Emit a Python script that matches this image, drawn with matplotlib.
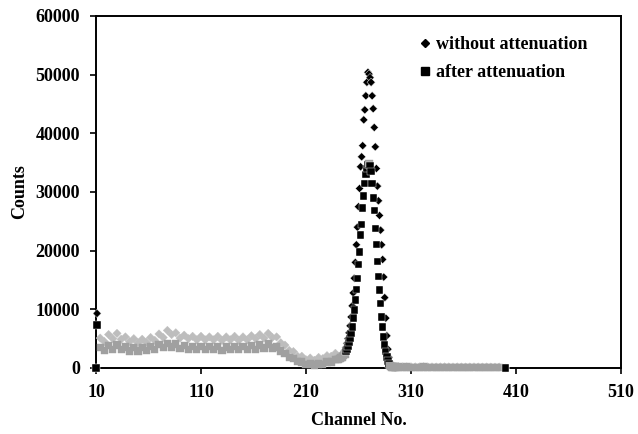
import numpy as np
import matplotlib
matplotlib.use('Agg')
import matplotlib.pyplot as plt
from matplotlib.lines import Line2D

plt.rcParams['font.family'] = ['Liberation Serif', 'DejaVu Serif']
plt.rcParams['font.weight'] = 'bold'

# channel numbers of the samples (start, flat region, peak region, tail, end)
start_ch = [10, 11]
base_ch = np.arange(14, 239, 4)
peak_ch = np.arange(240, 296)
tail_ch = np.arange(298, 398, 4)
end_ch = [400]

# counts without attenuation
without_start = [0, 9300]
without_base = [5100, 4500, 5700, 5000, 5900, 4900, 5300, 4500, 5000, 4300,
                4900, 4400, 5200, 4700, 5800, 5200, 6400, 5700, 6000, 5100,
                5600, 5000, 5400, 4800, 5400, 4800, 5300, 4800, 5400, 4700,
                5300, 4800, 5400, 4700, 5300, 4800, 5500, 5000, 5700, 5100,
                5900, 5200, 5300, 4300, 3900, 3000, 2800, 2000, 2000, 1400,
                1700, 1300, 1800, 1600, 2100, 2000, 2500]
without_peak = [1800, 1900, 2000, 2100, 2200, 2300, 2600, 3000, 3500, 4200,
                5000, 6000, 7200, 8700, 10600, 12800, 15300, 18000, 21000, 24000,
                27500, 30600, 34300, 36000, 37900, 42300, 44000, 46400, 48700, 50400,
                50100, 49500, 48700, 46400, 44200, 41000, 37700, 34000, 31000, 28500,
                26000, 23500, 21000, 18500, 15500, 12000, 8500, 5500, 3200, 1800,
                900, 500, 300, 200, 150, 150]
without_tail = [200, 200, 180, 200, 190, 180, 200, 190, 180, 170,
                180, 190, 180, 170, 180, 170, 160, 170, 180, 170,
                160, 170, 160, 150, 160]
without_end = [0]

# counts after attenuation
after_start = [0, 7300]
after_base = [3500, 3000, 3800, 3200, 3900, 3100, 3600, 2900, 3500, 2900,
              3500, 3000, 3700, 3200, 4000, 3500, 4200, 3600, 4100, 3300,
              3800, 3200, 3700, 3100, 3700, 3100, 3700, 3100, 3700, 3000,
              3600, 3100, 3700, 3100, 3700, 3100, 3800, 3200, 3900, 3400,
              4100, 3400, 3600, 2900, 2500, 1800, 1600, 1100, 1000, 600,
              700, 500, 700, 600, 1000, 1000, 1400]
after_peak = [1400, 1500, 1600, 1700, 1800, 1900, 2100, 2400, 2800, 3200,
              3700, 4300, 5000, 5900, 7000, 8500, 9900, 11600, 13400, 15300,
              17600, 19800, 22700, 24500, 27300, 29300, 31500, 33000, 34000, 34700,
              34900, 34500, 33500, 31500, 29000, 26800, 23800, 21100, 18100, 15600,
              13300, 11000, 8700, 7000, 5300, 3900, 2800, 1900, 1200, 700,
              400, 250, 200, 150, 150, 150]
after_tail = [150, 140, 150, 140, 130, 140, 150, 140, 130, 140,
              130, 140, 130, 120, 130, 120, 130, 120, 110, 120,
              110, 120, 110, 100, 110]
after_end = [0]

ch = np.concatenate([start_ch, base_ch, peak_ch, tail_ch, end_ch])
without = np.concatenate([without_start, without_base, without_peak, without_tail, without_end])
after = np.concatenate([after_start, after_base, after_peak, after_tail, after_end])


def point_colors(x, y, dense_color):
    # isolated / steep points look black, the packed flat band looks grey
    slope = np.abs(np.gradient(y, x))
    cols = np.where(slope > 350, 'black', dense_color).astype(object)
    cols[x < 240] = dense_color
    cols[0] = cols[1] = cols[-1] = 'black'
    return list(cols)


fig = plt.figure(figsize=(6.38, 4.34), dpi=100)
ax = fig.add_axes([96 / 638, 1 - 368 / 434, 525 / 638, 352 / 434])

cols_w = point_colors(ch, without, '#bdbdbd')
cols_a = point_colors(ch, after, '#a0a0a0')
ax.scatter(ch, without, marker='D', s=18, c=cols_w,
           edgecolors=['white' if c == 'black' else c for c in cols_w],
           linewidths=0.3, clip_on=False, zorder=3)
ax.scatter(ch, after, marker='s', s=28, c=cols_a,
           edgecolors=['white' if c == 'black' else c for c in cols_a],
           linewidths=0.3, clip_on=False, zorder=4)

ax.set_xlim(10, 510)
ax.set_ylim(0, 60000)
ax.set_xticks(np.arange(10, 511, 100))
ax.set_yticks(np.arange(0, 60001, 10000))
ax.tick_params(direction='out', length=4.5, width=1.2, labelsize=13, pad=7)
for s in ax.spines.values():
    s.set_linewidth(1.4)
ax.set_xlabel('Channel No.', fontsize=13, fontweight='bold', labelpad=8)
ax.set_ylabel('Counts', fontsize=13, fontweight='bold', labelpad=5)

handles = [Line2D([], [], marker='D', color='black', linestyle='none', markersize=4),
           Line2D([], [], marker='s', color='black', linestyle='none', markersize=6)]
ax.legend(handles, ['without attenuation', 'after attenuation'], loc='upper left',
          bbox_to_anchor=(0.595, 0.973), frameon=False, fontsize=13, handlelength=0.6,
          handletextpad=0.35, labelspacing=0.6, borderaxespad=0.2)

fig.savefig('out.png', dpi=100)
